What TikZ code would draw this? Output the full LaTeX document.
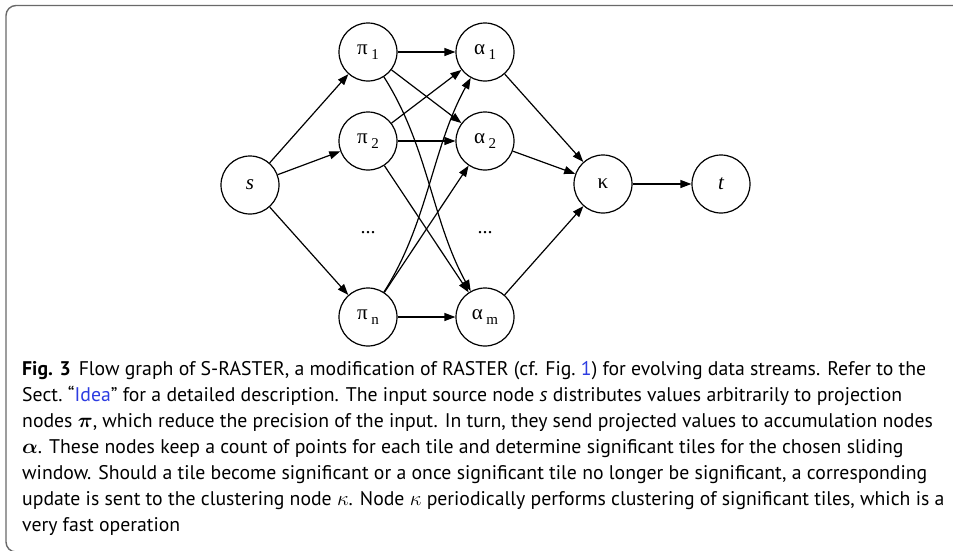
\documentclass[tikz,border=0pt]{standalone}
\usepackage{fontspec}
\usepackage{amsmath}
\setmainfont{PT Sans}
\newfontfamily\graphfont{Liberation Serif}
\usetikzlibrary{arrows.meta}
\definecolor{linkblue}{RGB}{45,60,225}
\definecolor{framegray}{RGB}{105,105,105}
\newcommand{\nsub}[1]{\,\raisebox{-5pt}{\fontsize{15}{15}\selectfont #1}}

\begin{document}
\begin{tikzpicture}[x=1pt, y=-1pt,
    vertex/.style={draw, circle, line width=1.2pt, minimum size=58pt, inner sep=0pt,
        font=\graphfont\fontsize{21}{21}\selectfont},
    gap/.style={inner sep=0pt, anchor=base, font=\graphfont\fontsize{20}{20}\selectfont},
    flow/.style={-{Triangle[length=11pt,width=8pt]}, line width=1.2pt}]
    \useasboundingbox (0,0) rectangle (953,550);

    % frame of the figure
    \draw[framegray, line width=1.4pt, rounded corners=10pt]
        (960,5.5) -- (6,5.5) -- (6,552) -- (40,552);

    \node[vertex] (s) at (250,185) {\itshape s};
    \node[vertex] (p1) at (368,52) {π\nsub{1}};
    \node[vertex] (p2) at (368,141) {π\nsub{2}};
    \node[gap] (pdots) at (368,233) {...};
    \node[vertex] (pn) at (368,317) {π\nsub{n}};
    \node[vertex] (a1) at (485,52) {α\nsub{1}};
    \node[vertex] (a2) at (485,141) {α\nsub{2}};
    \node[gap] (adots) at (485,233) {...};
    \node[vertex] (am) at (485,317) {α\nsub{m}};
    \node[vertex] (k) at (603,184) {κ};
    \node[vertex] (t) at (721,184) {\itshape t};

    \draw[flow] (s) -- (p1);
    \draw[flow] (s) -- (p2);
    \draw[flow] (s) -- (pn);

    \draw[flow] (p1) -- (a1);
    \draw[flow] (p1) -- (a2);
    \draw[flow] (p1) .. controls (428,146) and (432,221) .. (am);
    \draw[flow] (p2) -- (a1);
    \draw[flow] (p2) -- (a2);
    \draw[flow] (p2) -- (am);
    \draw[flow] (pn) .. controls (428,223) and (432,148) .. (a1);
    \draw[flow] (pn) -- (a2);
    \draw[flow] (pn) -- (am);

    \draw[flow] (a1) -- (k);
    \draw[flow] (a2) -- (k);
    \draw[flow] (am) -- (k);
    \draw[flow] (k) -- (t);

    % base anchor sits on the last line
    \node[anchor=base west, inner sep=0pt, align=left, font=\fontsize{19.75}{26}\selectfont]
        (caption) at (22,531) {\textbf{Fig. 3}\hspace{0.4em}Flow graph of S-RASTER, a modification of RASTER (cf. Fig.~\textcolor{linkblue}{1}) for evolving data streams. Refer to the\\
Sect.~“\textcolor{linkblue}{Idea}” for a detailed description. The input source node \textit{s} distributes values arbitrarily to projection\\
nodes $\boldsymbol{\pi}$, which reduce the precision of the input. In turn, they send projected values to accumulation nodes\\
$\boldsymbol{\alpha}$. These nodes keep a count of points for each tile and determine significant tiles for the chosen sliding\\
window. Should a tile become significant or a once significant tile no longer be significant, a corresponding\\
update is sent to the clustering node $\kappa$. Node $\kappa$ periodically performs clustering of significant tiles, which is a\\
very fast operation};
\end{tikzpicture}
\end{document}
